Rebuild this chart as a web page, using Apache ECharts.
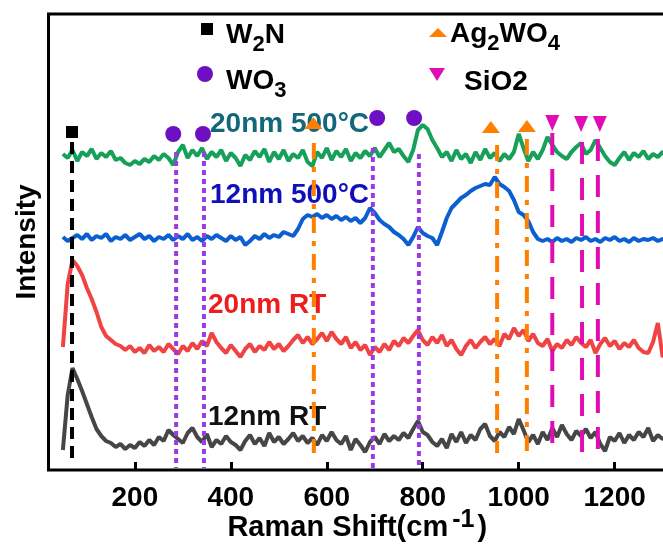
<!DOCTYPE html>
<html>
<head>
<meta charset="utf-8">
<title>Raman</title>
<script src="https://cdn.jsdelivr.net/npm/echarts@6/dist/echarts.min.js"></script>
<style>
  html, body { margin: 0; padding: 0; background: #fff; }
  #chart { width: 663px; height: 544px; }
</style>
</head>
<body>
<div id="chart"></div>
<script>
// Raman shift sampling (cm-1)
const shift = [
  50, 60, 70, 80, 90, 100, 110, 120, 130, 140,
  150, 160, 170, 180, 190, 200, 210, 220, 230, 240,
  250, 260, 270, 280, 290, 300, 310, 320, 330, 340,
  350, 360, 370, 380, 390, 400, 410, 420, 430, 440,
  450, 460, 470, 480, 490, 500, 510, 520, 530, 540,
  550, 560, 570, 580, 590, 600, 610, 620, 630, 640,
  650, 660, 670, 680, 690, 700, 710, 720, 730, 740,
  750, 760, 770, 780, 790, 800, 810, 820, 830, 840,
  850, 860, 870, 880, 890, 900, 910, 920, 930, 940,
  950, 960, 970, 980, 990, 1000, 1010, 1020, 1030, 1040,
  1050, 1060, 1070, 1080, 1090, 1100, 1110, 1120, 1130, 1140,
  1150, 1160, 1170, 1180, 1190, 1200, 1210, 1220, 1230, 1240,
  1250, 1260, 1270, 1280, 1290, 1300, 1310
]

// stacked intensities (a.u., offset already included)
const nm20_500 = [
  316, 312, 320, 309, 318, 314, 321, 311, 317, 313,
  319, 310, 312, 307, 305, 309, 306, 311, 308, 314,
  310, 316, 312, 305, 318, 325, 312, 320, 314, 322,
  311, 318, 313, 320, 309, 317, 312, 304, 315, 310,
  319, 313, 321, 308, 318, 311, 320, 309, 316, 312,
  320, 308, 304, 318, 312, 322, 310, 319, 313, 321,
  309, 317, 312, 319, 314, 322, 313, 320, 327, 318,
  321, 314, 308, 320, 340, 345, 341, 330, 322, 313,
  318, 309, 320, 311, 316, 307, 318, 310, 321, 312,
  317, 309, 316, 311, 318, 336, 322, 309, 318, 311,
  320, 333, 325, 318, 314, 311, 318, 323, 327, 316,
  320, 330, 322, 314, 308, 305, 312, 318, 310, 317,
  313, 319, 311, 316, 313, 318, 314
]
const nm12_500 = [
  233, 229, 232, 235, 231, 236, 230, 234, 232, 236,
  229, 233, 231, 235, 230, 233, 236, 231, 234, 229,
  233, 231, 235, 230, 234, 231, 236, 230, 233, 229,
  234, 231, 235, 232, 229, 234, 230, 233, 225, 229,
  234, 231, 236, 232, 235, 233, 238, 236, 234, 241,
  251, 255, 253, 256, 252, 255, 251, 254, 250, 253,
  249, 252, 247, 252, 262, 257, 250, 246, 243, 238,
  235, 231, 225, 233, 243, 237, 234, 232, 225, 238,
  252, 262, 267, 272, 275, 279, 282, 284, 286, 285,
  293, 286, 283, 279, 270, 258, 255, 249, 238, 231,
  229, 231, 228, 232, 229, 231, 228, 232, 230, 233,
  229, 231, 228, 232, 230, 233, 229, 231, 228, 232,
  229, 231, 230, 232, 229, 231, 230
]
const nm20_rt = [
  123, 186, 210, 204, 195, 182, 171, 158, 143, 134,
  130, 126, 124, 120, 124, 118, 122, 117, 125, 119,
  123, 118, 126, 121, 116, 124, 119, 127, 121, 129,
  124, 137, 128, 122, 117, 125, 119, 113, 121, 126,
  118, 124, 120, 128, 121, 126, 119, 124, 130, 135,
  127, 133, 126, 131, 137, 129, 138, 131, 126, 133,
  122, 128, 120, 125, 115, 123, 118, 126, 120, 129,
  124, 132, 127, 134, 140, 130, 125, 133, 127, 135,
  124, 130, 121, 115, 124, 130, 122, 128, 133, 126,
  131, 124, 136, 131, 142, 134, 140, 129, 136, 127,
  124, 131, 119, 126, 122, 130, 125, 133, 127, 123,
  130, 117, 126, 132, 124, 129, 121, 127, 123, 130,
  122, 118, 117, 128, 147, 113, 120
]
const nm12_rt = [
  20, 75, 102, 91, 79, 66, 53, 41, 34, 29,
  27, 23, 26, 21, 25, 22, 28, 24, 30, 25,
  33, 29, 40, 35, 31, 27, 37, 42, 33, 28,
  36, 23, 30, 26, 34, 28, 25, 20, 29, 35,
  26, 32, 24, 37, 28, 33, 26, 31, 37, 29,
  34, 27, 32, 25, 35, 29, 38, 30, 26, 34,
  20, 31, 25, 18, 28, 33, 26, 36, 29, 34,
  30, 37, 32, 41, 49, 38, 35, 28, 24, 31,
  22, 36, 28, 38, 27, 35, 30, 41, 46, 34,
  29, 38, 33, 43, 36, 51, 40, 28, 35, 26,
  38, 30, 42, 33, 45, 36, 30, 39, 34, 41,
  32, 38, 26, 19, 33, 29, 37, 27, 35, 30,
  38, 33, 42, 29, 35, 31, 33
]

const xTicks = [200, 400, 600, 800, 1000, 1200]

// reference peaks: [shift, bottom, top]
const w2nLines = [[69, 10, 328]]
const wo3Lines = [[286, 2, 318], [344, 2, 318], [696, 2, 322], [792, 2, 316]]
const ag2wo4Lines = [[573, 17, 327], [955, 17, 325], [1017, 17, 331]]
const sio2Lines = [[1070, 15, 337], [1132, 12, 328], [1165, 15, 331]]

// peak markers: [shift, intensity]
const w2nMarks = [[69, 338]]
const wo3Marks = [[280, 336], [342, 336], [705, 352], [782, 352]]
const ag2wo4Marks = [[572, 347], [942, 343], [1017, 344]]
const sio2Marks = [[1070, 347], [1130, 346], [1169, 346]]

const FONT = "'Liberation Sans', Arial, sans-serif"
const downTri = 'path://M0,0 L10,0 L5,10 Z'

const trace = (data, color) => ({
  type: 'line',
  data: shift.map((x, i) => [x, data[i]]),
  showSymbol: false,
  lineStyle: { color: color, width: 4 },
  z: 2
})

const vlines = (list, color, dash) => list.map(l => ({
  type: 'line',
  data: [[l[0], l[2]], [l[0], l[1]]],
  showSymbol: false,
  lineStyle: { color: color, width: 4, type: dash },
  z: 3
}))

const marks = (data, symbol, size, color) => ({
  type: 'scatter',
  data: data,
  symbol: symbol,
  symbolSize: size,
  itemStyle: { color: color, opacity: 1 },
  z: 4
})

const label = (text, x, y, color) => ({
  type: 'text',
  style: { text: text, x: x, y: y, fill: color, font: 'bold 28px ' + FONT, textVerticalAlign: 'middle' }
})

// chemical formula with subscripts: parts = [[text, isSub], ...]
const ctx = document.createElement('canvas').getContext('2d')
const formula = (parts, x, y) => {
  let cx = x
  return parts.map(p => {
    const size = p[1] ? 22 : 28
    const font = 'bold ' + size + 'px ' + FONT
    ctx.font = font
    const el = {
      type: 'text',
      style: { text: p[0], x: cx, y: p[1] ? y + 10 : y, fill: '#000', font: font, textVerticalAlign: 'middle' }
    }
    cx += ctx.measureText(p[0]).width
    return el
  })
}

const option = {
  animation: false,
  backgroundColor: '#fff',
  grid: {
    left: 48.5, top: 14, right: -3, bottom: 74,
    show: true, borderColor: '#000', borderWidth: 3,
    outerBoundsMode: 'none'
  },
  xAxis: {
    type: 'value',
    min: 20,
    max: 1307,
    name: '{m|Raman Shift(cm}{p|-1}{m|)}',
    nameLocation: 'middle',
    nameGap: 38,
    nameMoveOverlap: false,
    nameTextStyle: {
      rich: {
        m: { fontSize: 29, fontWeight: 'bold', fontFamily: FONT, color: '#000', lineHeight: 30, padding: [10, 0, 0, 0] },
        p: { fontSize: 25, fontWeight: 'bold', fontFamily: FONT, color: '#000', lineHeight: 25, verticalAlign: 'top', padding: [0, 3, 0, 4] }
      }
    },
    axisLine: { show: false },
    axisTick: { show: true, inside: true, length: 8, customValues: xTicks, lineStyle: { color: '#000', width: 3 } },
    axisLabel: {
      customValues: xTicks, margin: 14, color: '#000', fontSize: 28, fontWeight: 'bold', fontFamily: FONT,
      formatter: v => String(v)
    },
    splitLine: { show: false }
  },
  yAxis: {
    type: 'value',
    min: 0,
    max: 456,
    name: 'Intensity',
    nameLocation: 'middle',
    nameGap: 7,
    nameTextStyle: { fontSize: 28, fontWeight: 'bold', fontFamily: FONT, color: '#000' },
    axisLine: { show: false },
    axisTick: { show: false },
    axisLabel: { show: false },
    splitLine: { show: false }
  },
  graphic: [
    { type: 'rect', shape: { x: 201, y: 23, width: 12, height: 12 }, style: { fill: '#000' } },
    { type: 'circle', shape: { cx: 205, cy: 74, r: 8 }, style: { fill: '#6f0fc4' } },
    { type: 'polygon', shape: { points: [[429, 37], [447, 37], [438, 28]] }, style: { fill: '#ff7f00' } },
    { type: 'polygon', shape: { points: [[429, 68], [445, 68], [437, 81]] }, style: { fill: '#e00db5' } },
    ...formula([['W', 0], ['2', 1], ['N', 0]], 226, 35),
    ...formula([['WO', 0], ['3', 1]], 226, 81),
    ...formula([['Ag', 0], ['2', 1], ['WO', 0], ['4', 1]], 450, 34),
    label('SiO2', 464, 82, '#000'),
    label('20nm 500°C', 210, 124, '#12677a'),
    label('12nm 500°C', 210, 195, '#1010bb'),
    label('20nm RT', 208, 305, '#ee1c1c'),
    label('12nm RT', 208, 417, '#111111')
  ],
  series: [
    trace(nm12_rt, '#464646'),
    trace(nm20_rt, '#f04444'),
    trace(nm12_500, '#0b5fd0'),
    trace(nm20_500, '#16a05a'),
    ...vlines(w2nLines, '#000', [12, 7]),
    ...vlines(wo3Lines, '#9a3ce6', [5, 4]),
    ...vlines(ag2wo4Lines, '#ff7f00', [16, 8, 5, 8]),
    ...vlines(sio2Lines, '#e00db5', [22, 14]),
    marks(w2nMarks, 'rect', 12, '#000'),
    marks(wo3Marks, 'circle', 16, '#6f0fc4'),
    marks(ag2wo4Marks, 'triangle', [18, 12], '#ff7f00'),
    marks(sio2Marks, downTri, [14, 16], '#e00db5')
  ]
}

const chart = echarts.init(document.getElementById('chart'))
chart.setOption(option)
window.addEventListener('resize', () => chart.resize())
</script>
</body>
</html>
